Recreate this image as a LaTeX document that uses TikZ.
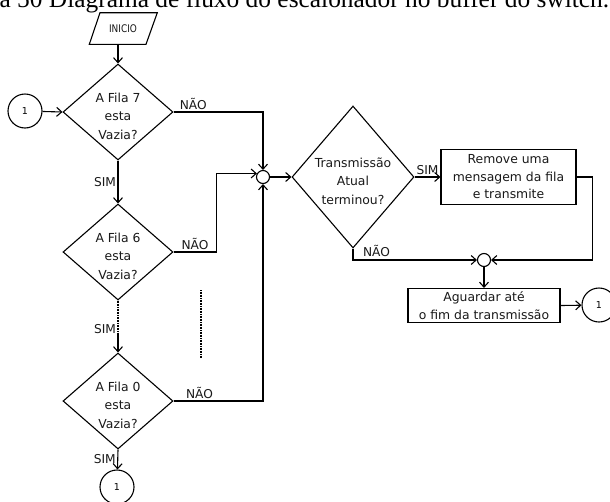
\documentclass[tikz,border=0pt]{standalone}
\usepackage{fontspec}
\setmainfont{DejaVu Sans}
\newfontfamily\titlefont{Liberation Serif}
\newfontfamily\narrowfont[FakeStretch=0.85]{DejaVu Sans}
\usetikzlibrary{shapes.geometric,arrows.meta,calc}

\begin{document}
\begin{tikzpicture}[x=1pt,y=-1pt,
  line width=1.1pt,
  txt/.style={font=\fontsize{12.4}{18.5}\selectfont, text=black!90, align=center, inner sep=0pt, yshift=-4pt},
  dec/.style={diamond, draw, minimum width=110pt, minimum height=96pt, inner sep=0pt},
  con/.style={circle, draw, minimum size=34pt, inner sep=0pt, font=\fontsize{9.5}{10}\selectfont},
  jn/.style={circle, draw, minimum size=13pt, inner sep=0pt},
  procbox/.style={rectangle, draw, inner sep=0pt, align=center, font=\fontsize{12.4}{17.5}\selectfont, text=black!90},
  starttext/.style={inner sep=0pt, font=\narrowfont\fontsize{10.5}{12}\selectfont, text=black!90},
  arr/.style={-{Straight Barb[length=5pt,width=9pt]}},
  lbl/.style={font=\fontsize{12.2}{14}\selectfont, text=black!90, inner sep=1.5pt},
  dotline/.style={line width=1.5pt, dash pattern=on 0.8pt off 0.8pt},
]
\useasboundingbox (0,0) rectangle (610,501);

% caption line at the top
\node[anchor=base west, inner sep=0pt, font=\titlefont\fontsize{25.4}{30}\selectfont] (title) at (-1,7.5)
  {a 50 Diagrama de fluxo do escalonador no buffer do switch.};

% start symbol: a parallelogram drawn around its text
\node[starttext] (inicio) at (123,28.5) {INICIO};
\draw (100,12.7) -- (157.3,12.7) -- (146,44.3) -- (89.3,44.3) -- cycle;
\coordinate (inicioOut) at (118,44.3);

% queue checks
\node[dec, label={[txt]center:{A Fila 7\\esta\\Vazia?}}] (d7) at (118,112) {};
\node[con] (c1a) at (25,111) {1};
\node[dec, label={[txt]center:{A Fila 6\\esta\\Vazia?}}] (d6) at (118,252) {};
\node[dec, label={[txt]center:{A Fila 0\\esta\\Vazia?}}] (d0) at (118,401) {};
\node[con] (c1b) at (117,487) {1};

% transmission part
\node[jn] (j1) at (263,177) {};
\node[dec, minimum width=122pt, minimum height=142pt,
  label={[txt]center:{Transmissão\\Atual\\terminou?}}] (tr) at (353,177) {};
\node[procbox, minimum width=135pt, minimum height=55pt] (rm) at (508.5,177)
  {Remove uma\\mensagem da fila\\e transmite};
\node[jn] (j2) at (484,260) {};
\node[procbox, minimum width=152pt, minimum height=34pt] (ag) at (484,305.5)
  {Aguardar até\\o fim da transmissão};
\node[con] (c1c) at (599,305) {1};

% connectors
\draw[arr] (inicioOut) -- (d7.north);
\draw[arr] (c1a) -- (d7.west);
\draw[arr] (d7.east) -| node[lbl, pos=0.11, above] (n7) {NÃO} (j1.north);
\draw[arr] (d7.south) -- node[lbl, left] (s7) {SIM} (d6.north);
\draw[arr] (d6.east) -- node[lbl, above] (n6) {NÃO} ++(43,0) coordinate (k6) |- (j1.150);
\draw[dotline] (d6.south) -- ++(0,33) coordinate (dm);
\node[lbl, left] (s6) at ($(dm)+(0,-4)$) {SIM};
\draw[arr] (dm) -- (d0.north);
\draw[dotline] (201,290) -- (201,358);
\draw[arr] (d0.east) -| node[lbl, pos=0.145, above] (n0) {NÃO} (j1.south);
\draw[arr] (d0.south) -- node[lbl, left] (s0) {SIM} (c1b);
\draw[arr] (j1) -- (tr.west);
\draw[arr] (tr.east) -- node[lbl, above] (str) {SIM} (rm.west);
\draw[arr] (tr.south) |- node[lbl, pos=0.5, anchor=south west, xshift=8pt, yshift=1pt] (ntr) {NÃO} (j2.west);
\draw[arr] (rm.east) -- ++(16,0) |- (j2.east);
\draw[arr] (j2) -- (ag.north);
\draw[arr] (ag.east) -- (c1c);
\end{tikzpicture}
\end{document}
